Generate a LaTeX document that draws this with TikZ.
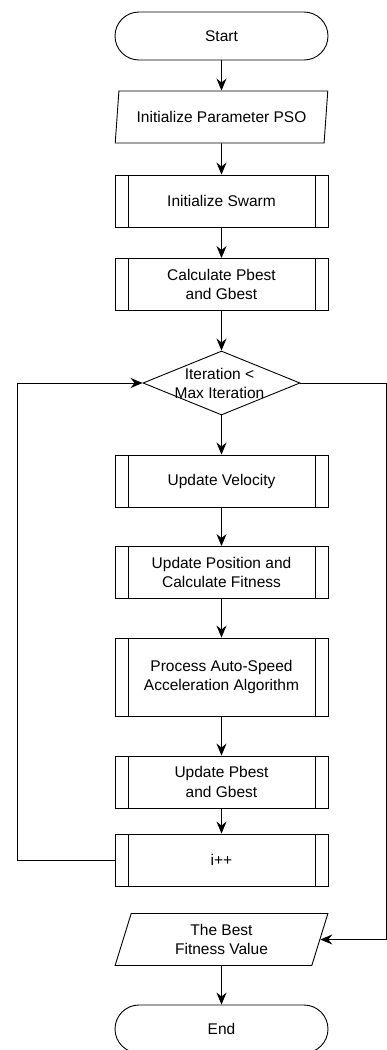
\documentclass[tikz,border=0pt]{standalone}
\usepackage{fontspec}
\setmainfont{Liberation Sans}
\usetikzlibrary{shapes.geometric,arrows.meta}
\begin{document}
\begin{tikzpicture}[x=1pt,y=-1pt,
  every node/.style={font=\fontsize{15.5}{19.5}\selectfont, align=center},
  line/.style={line width=0.9pt, draw=black},
  arr/.style={line, -{Stealth[length=12pt,width=10pt,inset=4pt]}},
  term/.style={line, rectangle, rounded corners=24pt, minimum width=213pt, minimum height=48pt, inner sep=0pt},
  io/.style={line, trapezium, trapezium left angle=75, trapezium right angle=105, trapezium stretches=true, minimum width=213pt, minimum height=52pt, inner sep=0pt},
  proc/.style={line, rectangle, minimum width=213pt, minimum height=52pt, inner sep=0pt,
    path picture={
      \draw[line width=0.9pt] ([xshift=13pt]path picture bounding box.north west) -- ([xshift=13pt]path picture bounding box.south west);
      \draw[line width=0.9pt] ([xshift=-13pt]path picture bounding box.north east) -- ([xshift=-13pt]path picture bounding box.south east);
    }},
  dia/.style={line, diamond, minimum width=157pt, minimum height=64pt, inner sep=0pt}
]
\useasboundingbox (0,0) rectangle (387,1050);

\node[term] (start) at (221.5,36) {Start};
\node[io] (init) at (221.5,117) {Initialize Parameter PSO};
\node[proc] (swarm) at (221.5,201) {Initialize Swarm};
\node[proc] (calc) at (221.5,284.5) {Calculate Pbest\\and Gbest};
\node[dia] (dec) at (221.5,383) {};
\node (dect) at (219.5,383.5) {Iteration <\\Max Iteration};
\node[proc] (vel) at (221.5,481) {Update Velocity};
\node[proc] (pos) at (221.5,572.5) {Update Position and\\Calculate Fitness};
\node[proc, minimum height=78pt] (acc) at (221.5,677) {Process Auto-Speed\\Acceleration Algorithm};
\node[proc] (upd) at (221.5,782) {Update Pbest\\and Gbest};
\node[proc] (inc) at (221.5,860) {i++};
\node[io] (best) at (221.5,939.5) {The Best\\Fitness Value};
\node[term] (end) at (221.5,1029) {End};

\coordinate (lp) at (17,860);
\coordinate (rp) at (386,383);

\draw[arr] (start) -- (init);
\draw[arr] (init) -- (swarm);
\draw[arr] (swarm) -- (calc);
\draw[arr] (calc) -- (dec);
\draw[arr] (dec) -- (vel);
\draw[arr] (vel) -- (pos);
\draw[arr] (pos) -- (acc);
\draw[arr] (acc) -- (upd);
\draw[arr] (upd) -- (inc);
\draw[arr] (inc) -- (lp) |- (dec);
\draw[arr] (dec) -- (rp) |- (best);
\draw[arr] (best) -- (end);
\end{tikzpicture}
\end{document}
